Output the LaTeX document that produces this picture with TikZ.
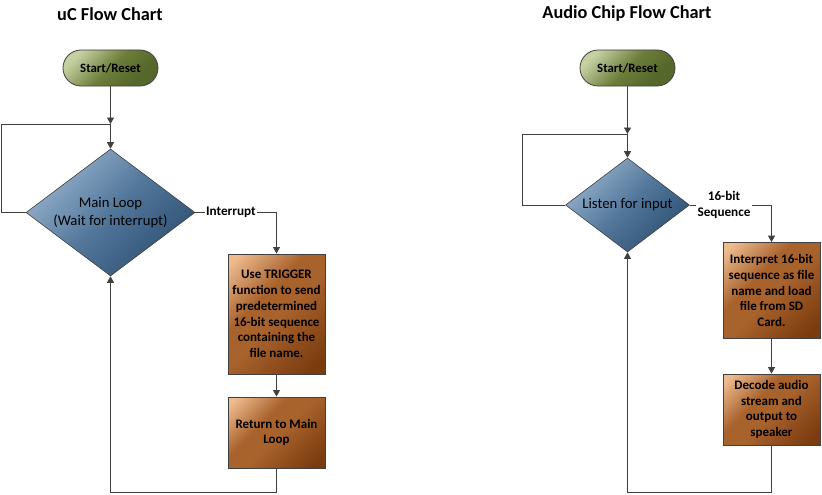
\documentclass[tikz,border=0pt]{standalone}
\usepackage{fontspec}
\setmainfont{Carlito}
\usetikzlibrary{shapes.geometric,arrows.meta}
\definecolor{glight}{HTML}{C5D0A2}
\definecolor{gmid}{HTML}{6D7E3A}
\definecolor{gdark}{HTML}{55672A}
\definecolor{blight}{HTML}{8EAAC6}
\definecolor{bmid}{HTML}{52779B}
\definecolor{bdark}{HTML}{2A4C6E}
\definecolor{rlight}{HTML}{EFBC90}
\definecolor{rmid}{HTML}{A8622C}
\definecolor{rdark}{HTML}{7A3B0E}
\definecolor{edge}{HTML}{404040}
\pgfdeclareverticalshading{brownsh}{100bp}{color(0bp)=(rdark); color(20bp)=(rdark); color(48bp)=(rmid); color(60bp)=(rmid); color(82bp)=(rlight); color(100bp)=(rlight)}
\pgfdeclareverticalshading{bluesh}{100bp}{color(0bp)=(bdark); color(22bp)=(bdark); color(50bp)=(bmid); color(72bp)=(blight); color(100bp)=(blight)}
\pgfdeclareverticalshading{greensh}{100bp}{color(0bp)=(gdark); color(30bp)=(gdark); color(50bp)=(gmid); color(75bp)=(glight); color(100bp)=(glight)}
\tikzset{
  x=1pt, y=1pt,
  every node/.style={font=\fontsize{13}{15.8}\selectfont\bfseries, text=black},
  title/.style={font=\fontsize{18.3}{20}\selectfont\bfseries},
  term/.style={draw=edge, line width=0.8pt, rounded corners=18pt, minimum width=95pt, minimum height=36pt,
    inner sep=0pt, shading=greensh, shading angle=45,
    font=\fontsize{12.8}{15}\selectfont\bfseries},
  decis/.style={diamond, draw=edge, line width=0.6pt, inner sep=0pt, shading=bluesh, shading angle=45},
  dtext/.style={font=\fontsize{14.7}{17.5}\selectfont, align=center, inner sep=0pt},
  proc/.style={draw=edge, line width=0.8pt, minimum width=97pt, inner sep=0pt, align=center,
    shading=brownsh, shading angle=45},
  lbl/.style={font=\fontsize{13.2}{16}\selectfont\bfseries, inner sep=1pt, align=center},
  line/.style={draw=edge, line width=0.8pt},
  arr/.style={line, -{Triangle[width=7pt,length=6.5pt]}},
}
\begin{document}
\begin{tikzpicture}
\useasboundingbox (0,0) rectangle (822,-495);
% ---------- left chart ----------
\node[title] (t1) at (110,-14) {uC Flow Chart};
\node[term] (s1) at (110.5,-68) {Start/Reset};
\node[decis, minimum width=169pt, minimum height=127pt] (d1) at (110.5,-212.5) {};
\node[dtext] (d1t) at (d1.center) {Main Loop\\(Wait for interrupt)};
\node[proc, minimum height=120pt] (b1) at (276.5,-314) {Use TRIGGER\\function to send\\predetermined\\16-bit sequence\\containing the\\file name.};
\node[proc, minimum height=71pt] (b2) at (276.5,-432.5) {Return to Main\\Loop};
\node[lbl] (i1) at (231,-212.5) {Interrupt};
\coordinate (j1) at (110.5,-124);
\coordinate (l1) at (1.5,-124);
\coordinate (r1) at (276.5,-492);
\draw[arr] (s1.south) -- (j1);
\draw[arr] (j1) -- (d1.north);
\draw[line] (d1.west) -| (l1) -- (j1);
\draw[line] (d1.east) -- (i1.west);
\draw[arr] (i1.east) -| (b1.north);
\draw[arr] (b1.south) -- (b2.north);
\draw[arr] (b2.south) -- (r1) -| (d1.south);
% ---------- right chart ----------
\node[title] (t2) at (627,-14) {Audio Chip Flow Chart};
\node[term] (s2) at (627.5,-68) {Start/Reset};
\node[decis, minimum width=124pt, minimum height=94pt] (d2) at (627.5,-205) {};
\node[dtext] (d2t) at (d2.center) {Listen for input};
\node[proc, minimum height=96pt] (c1) at (771.5,-290.5) {Interpret 16-bit\\sequence as file\\name and load\\file from SD\\Card.};
\node[proc, minimum height=71pt] (c2) at (771.5,-409.5) {Decode audio\\stream and\\output to\\speaker};
\node[lbl] (i2) at (724,-205) {16-bit\\Sequence};
\coordinate (j2) at (627.5,-134);
\coordinate (l2) at (522.5,-134);
\coordinate (e2) at (696,-205);
\coordinate (f2) at (752,-205);
\coordinate (r2) at (771.5,-492);
\draw[arr] (s2.south) -- (j2);
\draw[arr] (j2) -- (d2.north);
\draw[line] (d2.west) -| (l2) -- (j2);
\draw[line] (d2.east) -- (e2);
\draw[arr] (f2) -| (c1.north);
\draw[arr] (c1.south) -- (c2.north);
\draw[arr] (c2.south) -- (r2) -| (d2.south);
\end{tikzpicture}
\end{document}
